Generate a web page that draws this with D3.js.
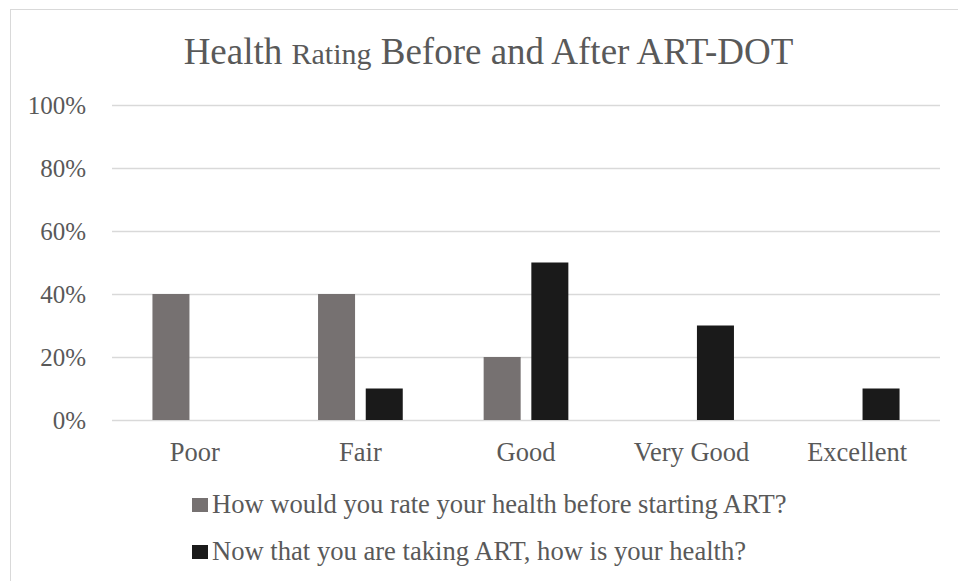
<!DOCTYPE html>
<html>
<head>
<meta charset="utf-8">
<script src="https://cdn.jsdelivr.net/npm/d3@7"></script>
<style>
    body { margin: 0; background: #fff; }
    svg text { font-family: "Liberation Serif", "Times New Roman", serif; fill: #595959; }
</style>
</head>
<body>
<svg id="chart"></svg>
<script>
// Chart data
const categories = ['Poor', 'Fair', 'Good', 'Very Good', 'Excellent'];
const seriesNames = [
    'How would you rate your health before starting ART?',
    'Now that you are taking ART, how is your health?'
];
const beforeValues = [0.40, 0.40, 0.20, 0, 0];
const afterValues = [0, 0.10, 0.50, 0.30, 0.10];
const yTicks = [0, 0.2, 0.4, 0.6, 0.8, 1.0];
const colors = ['#767171', '#1a1a1a'];

// Dimensions
const width = 958;
const height = 581;
const plot = { left: 112, right: 940, top: 105, bottom: 420 };

const svg = d3.select('#chart')
    .attr('width', width)
    .attr('height', height);

// Chart frame (right and bottom edges fall outside the picture)
svg.append('rect')
    .attr('x', 10.5)
    .attr('y', 9.5)
    .attr('width', 957)
    .attr('height', 600)
    .attr('fill', '#fff')
    .attr('stroke', '#d9d9d9')
    .attr('stroke-width', 1);

const frameCenter = (10 + 967) / 2;

// Title, with the smaller "Rating" word
const title = svg.append('text')
    .attr('x', frameCenter)
    .attr('y', 64)
    .attr('text-anchor', 'middle');
title.append('tspan').attr('font-size', 37).text('Health ');
title.append('tspan').attr('font-size', 30).text('Rating');
title.append('tspan').attr('font-size', 37).text(' Before and After ART-DOT');

// Scales
const x0 = d3.scaleBand()
    .domain(categories)
    .range([plot.left, plot.right])
    .paddingInner(0.4885)
    .paddingOuter(0.4885 / 2);

const x1 = d3.scaleBand()
    .domain([0, 1])
    .range([0, x0.bandwidth()])
    .paddingInner(0.224);

const yScale = d3.scaleLinear()
    .domain([0, 1])
    .range([plot.bottom, plot.top]);

// Gridlines
svg.append('g')
    .selectAll('line')
    .data(yTicks)
    .join('line')
    .attr('x1', plot.left)
    .attr('x2', plot.right)
    .attr('y1', d => Math.round(yScale(d)) + 0.5)
    .attr('y2', d => Math.round(yScale(d)) + 0.5)
    .attr('stroke', '#d9d9d9')
    .attr('stroke-width', 1.5);

// Y axis labels
const yAxis = svg.append('g')
    .attr('transform', `translate(${plot.left - 26},0)`)
    .call(d3.axisLeft(yScale).tickValues(yTicks).tickFormat(d3.format('.0%')).tickSize(0).tickPadding(0));
yAxis.select('.domain').remove();
yAxis.selectAll('text')
    .attr('font-size', 25)
    .attr('fill', '#595959')
    .attr('font-family', '"Liberation Serif", "Times New Roman", serif');

// Bars
const rows = categories.map((c, i) => ({ cat: c, values: [beforeValues[i], afterValues[i]] }));

svg.append('g')
    .selectAll('g')
    .data(rows)
    .join('g')
    .attr('transform', d => `translate(${x0(d.cat)},0)`)
    .selectAll('rect')
    .data(d => d.values.map((v, s) => ({ s, v })))
    .join('rect')
    .attr('x', d => x1(d.s))
    .attr('y', d => yScale(d.v))
    .attr('width', x1.bandwidth())
    .attr('height', d => yScale(0) - yScale(d.v))
    .attr('fill', d => colors[d.s]);

// X axis labels
const xAxis = svg.append('g')
    .attr('transform', `translate(0,${plot.bottom + 22})`)
    .call(d3.axisBottom(x0).tickSize(0).tickPadding(0));
xAxis.select('.domain').remove();
xAxis.selectAll('text')
    .attr('font-size', 26.5)
    .attr('fill', '#595959')
    .attr('font-family', '"Liberation Serif", "Times New Roman", serif');

// Legend
const legend = svg.append('g')
    .selectAll('g')
    .data(seriesNames)
    .join('g')
    .attr('transform', (d, i) => `translate(192,${513 + i * 47})`);

legend.append('rect')
    .attr('x', 0)
    .attr('y', -15)
    .attr('width', 16)
    .attr('height', 14)
    .attr('fill', (d, i) => colors[i]);

legend.append('text')
    .attr('x', 20)
    .attr('y', 0)
    .attr('font-size', 26.6)
    .text(d => d);
</script>
</body>
</html>
